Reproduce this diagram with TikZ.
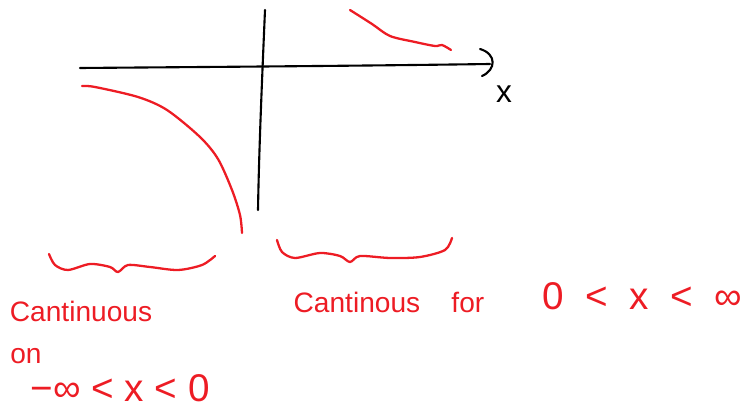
\documentclass[tikz,border=0pt]{standalone}
\usepackage{fontspec}
\setmainfont{Liberation Sans}
\usetikzlibrary{positioning}
\definecolor{penred}{RGB}{237,28,36}
\begin{document}
\begin{tikzpicture}[x=0.02cm, y=-0.02cm, every node/.style={text=penred, font=\fontsize{16}{19}\selectfont, inner sep=0pt}, axis/.style={black, line width=1.2pt, line cap=round}, curve/.style={penred, line width=1.3pt, line cap=round}, rangetext/.style={font=\fontsize{22}{26}\selectfont}]
\useasboundingbox (0,0) rectangle (743,408);
% axes
\coordinate (xl) at (80,68);
\coordinate (xr) at (490,64);
\coordinate (yt) at (265,10);
\coordinate (yb) at (258,210);
\draw[axis] (xl) .. controls (200,67) and (350,66) .. (xr);
\draw[axis] (yt) .. controls (262,80) and (259,150) .. (yb);
\draw[axis] (480,49) .. controls (497,54) and (496,70) .. (482,76);
\node[text=black, font=\fontsize{18}{20}\selectfont] (xlab) at (504,94) {x};
% graph
\draw[curve] plot[smooth] coordinates {(350,10) (372,24) (390,36) (415,42) (435,46) (442,45) (451,50)};
\draw[curve] plot[smooth] coordinates {(82,86) (95,87) (138,97) (167,110) (200,137) (218,159) (232,190) (240,215) (242,233)};
% braces
\draw[curve] plot[smooth] coordinates {(49,254) (55,265) (68,270) (90,264) (110,267) (118,272) (128,265) (150,267) (178,270) (202,265) (215,256)};
\draw[curve] plot[smooth] coordinates {(277,240) (282,252) (295,258) (320,253) (340,256) (350,262) (360,256) (390,258) (420,257) (445,250) (452,238)};
% labels
\node (left) at (81,311) {Cantinuous};
\node (on) at (26,356) {on};
\node[rangetext] (leftrange) at (120,388) {−∞\ <\ x\ <\ 0};
\node (right) at (389,302) {Cantinous\ \ \ \ for};
\node[rangetext] (rightrange) at (642,296) {0\ \ <\ \ x\ \ <\ \ ∞};
\end{tikzpicture}
\end{document}
